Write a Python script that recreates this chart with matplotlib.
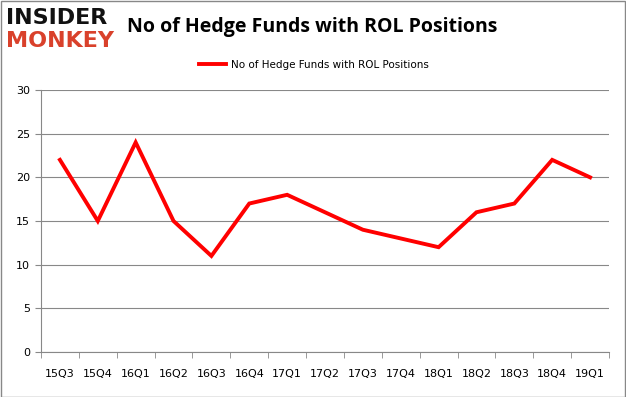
import matplotlib.pyplot as plt
from matplotlib.patches import Rectangle

quarters = ["15Q3", "15Q4", "16Q1", "16Q2", "16Q3", "16Q4", "17Q1", "17Q2",
            "17Q3", "17Q4", "18Q1", "18Q2", "18Q3", "18Q4", "19Q1"]
funds = [22, 15, 24, 15, 11, 17, 18, 16, 14, 13, 12, 16, 17, 22, 20]
y_ticks = [0, 5, 10, 15, 20, 25, 30]

W, H = 626, 397
fig = plt.figure(figsize=(W / 100, H / 100), dpi=100)
fig.patches.append(Rectangle((0.5 / W, 0.5 / H), 1 - 1.5 / W, 1 - 1.5 / H,
                             transform=fig.transFigure, fill=False,
                             edgecolor="#888888", linewidth=1))

# plot area in pixels: left 41, right 609, top 90, bottom 352
ax = fig.add_axes([41 / W, 1 - 352 / H, (609 - 41) / W, (352 - 90) / H])
x = list(range(len(quarters)))
ax.plot(x, funds, color="#ff0000", linewidth=2.8, solid_joinstyle="miter",
        label="No of Hedge Funds with ROL Positions")
ax.set_xlim(-0.5, len(quarters) - 0.5)
ax.set_ylim(0, 30)
ax.set_yticks(y_ticks)
ax.set_yticklabels([str(v) for v in y_ticks], fontsize=8)
ax.set_xticks(x)
ax.set_xticklabels(quarters, fontsize=8)
ax.set_xticks([i - 0.5 for i in range(len(quarters) + 1)], minor=True)
ax.tick_params(axis="x", which="major", length=0, pad=12)
ax.tick_params(axis="x", which="minor", length=4, color="#888888")
ax.tick_params(axis="y", length=4, color="#888888", pad=4)
ax.grid(axis="y", color="#888888", linewidth=0.8)
ax.set_axisbelow(True)
for s in ["top", "right"]:
    ax.spines[s].set_visible(False)
for s in ["left", "bottom"]:
    ax.spines[s].set_color("#888888")

ax.legend(loc="lower center", bbox_to_anchor=(0.48, 1.04), frameon=False,
          fontsize=7.5, handlelength=2.6, handletextpad=0.5)

fig.text(312 / W, 1 - 27 / H, "No of Hedge Funds with ROL Positions",
         ha="center", va="center", fontsize=14, fontweight="bold",
         family="Open Sans")
fig.text(6 / W, 1 - 18 / H, "INSIDER", ha="left", va="center", fontsize=16,
         fontweight="bold", color="#111111", family="DejaVu Sans")
fig.text(6 / W, 1 - 41 / H, "MONKEY", ha="left", va="center", fontsize=16,
         fontweight="bold", color="#d9412b", family="DejaVu Sans")

fig.savefig("out.png", dpi=100)
